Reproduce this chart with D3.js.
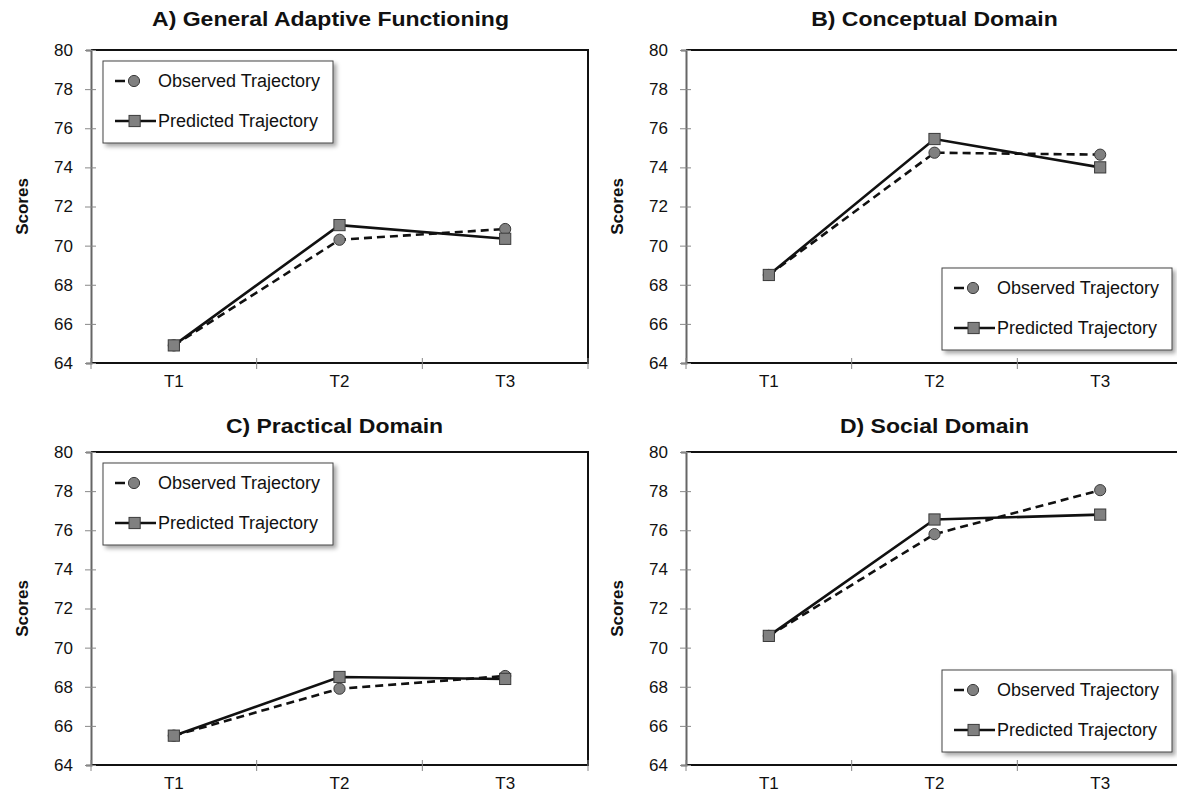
<!DOCTYPE html>
<html>
<head>
<meta charset="utf-8">
<script src="https://cdn.jsdelivr.net/npm/d3@7"></script>
<style>
  body { margin: 0; background: #fff; }
  svg { display: block; font-family: "Liberation Sans", Arial, sans-serif; }
</style>
</head>
<body>
<svg id="chart" width="1177" height="799"></svg>
<script>
// ---- data ----
const times = ["T1", "T2", "T3"];
const yTicks = [64, 66, 68, 70, 72, 74, 76, 78, 80];
const titles = ["A) General Adaptive Functioning", "B) Conceptual Domain", "C) Practical Domain", "D) Social Domain"];
const observedA = [64.9, 70.3, 70.85];
const predictedA = [64.9, 71.05, 70.35];
const observedB = [68.5, 74.75, 74.65];
const predictedB = [68.5, 75.45, 74.0];
const observedC = [65.5, 67.9, 68.55];
const predictedC = [65.5, 68.5, 68.4];
const observedD = [70.6, 75.8, 78.05];
const predictedD = [70.6, 76.55, 76.8];
const legendLabels = ["Observed Trajectory", "Predicted Trajectory"];

// ---- layout ----
const panels = [
  {title: titles[0], obs: observedA, pred: predictedA, left: 91,  top: 50,  legend: "tl", tdx: -9, tdy: -24},
  {title: titles[1], obs: observedB, pred: predictedB, left: 686, top: 50,  legend: "br", tdx: 0,  tdy: -24},
  {title: titles[2], obs: observedC, pred: predictedC, left: 91,  top: 452, legend: "tl", tdx: -5, tdy: -19},
  {title: titles[3], obs: observedD, pred: predictedD, left: 686, top: 452, legend: "br", tdx: 0,  tdy: -19}
];
const pw = 497, ph = 313;
const markerFill = "#808080", markerStroke = "#3a3a3a";

const svg = d3.select("#chart");

// drop shadow for legend boxes
const defs = svg.append("defs");
const f = defs.append("filter").attr("id", "shadow")
  .attr("x", "-10%").attr("y", "-10%").attr("width", "130%").attr("height", "140%");
f.append("feDropShadow").attr("dx", 3).attr("dy", 3).attr("stdDeviation", 2)
  .attr("flood-color", "#000").attr("flood-opacity", 0.35);

panels.forEach(p => {
  const g = svg.append("g").attr("transform", `translate(${p.left},${p.top})`);

  const x = d3.scaleBand().domain(times).range([0, pw]);
  const y = d3.scaleLinear().domain([64, 80]).range([ph, 0]);

  // title (source figure is stretched a little horizontally)
  g.append("text")
    .attr("transform", `translate(${pw / 2 + p.tdx},${p.tdy}) scale(1.18,1)`)
    .attr("text-anchor", "middle")
    .style("font-size", "19.5px")
    .style("font-weight", "bold")
    .style("fill", "#111")
    .text(p.title);

  // y label
  g.append("text")
    .attr("transform", "rotate(-90)")
    .attr("x", -ph / 2)
    .attr("y", -63)
    .attr("text-anchor", "middle")
    .style("font-size", "17px")
    .style("font-weight", "bold")
    .style("fill", "#111")
    .text("Scores");

  // plot border (top/right/bottom black)
  g.append("path")
    .attr("d", `M0,0H${pw}V${ph}H0`)
    .attr("fill", "none")
    .attr("stroke", "#111")
    .attr("stroke-width", 2);

  // y axis
  const ya = g.append("g")
    .call(d3.axisLeft(y).tickValues(yTicks).tickSize(5).tickPadding(13));
  ya.select(".domain").attr("stroke", "#666").attr("stroke-width", 2);
  ya.selectAll(".tick line").attr("stroke", "#888").attr("x2", 5).attr("x1", -6);
  ya.selectAll("text").style("font-size", "17px").style("fill", "#111");

  // x axis: ticks on band boundaries
  const xa = g.append("g")
    .attr("transform", `translate(0,${ph})`)
    .call(d3.axisBottom(x).tickSize(0).tickPadding(12));
  xa.select(".domain").remove();
  xa.selectAll("text").style("font-size", "17px").style("fill", "#111");
  g.selectAll(".xb")
    .data(times.map(t => x(t)).concat([pw]))
    .enter().append("line")
    .attr("x1", d => d).attr("x2", d => d)
    .attr("y1", ph - 5).attr("y2", ph + 6)
    .attr("stroke", "#888").attr("stroke-width", 1);

  const cx = t => x(t) + x.bandwidth() / 2;
  const line = d3.line().x((d, i) => cx(times[i])).y(d => y(d));

  // observed (dashed)
  g.append("path").datum(p.obs)
    .attr("fill", "none").attr("stroke", "#111")
    .attr("stroke-width", 2.6).attr("stroke-dasharray", "8,5")
    .attr("d", line);
  // predicted (solid)
  g.append("path").datum(p.pred)
    .attr("fill", "none").attr("stroke", "#111")
    .attr("stroke-width", 2.6)
    .attr("d", line);

  g.selectAll(".obs").data(p.obs).enter().append("circle")
    .attr("cx", (d, i) => cx(times[i])).attr("cy", d => y(d))
    .attr("r", 5.6)
    .attr("fill", markerFill).attr("stroke", markerStroke).attr("stroke-width", 1);

  g.selectAll(".pred").data(p.pred).enter().append("rect")
    .attr("x", (d, i) => cx(times[i]) - 5.6).attr("y", d => y(d) - 5.6)
    .attr("width", 11.2).attr("height", 11.2)
    .attr("fill", markerFill).attr("stroke", markerStroke).attr("stroke-width", 1);

  // legend
  const lw = 230, lh = 82;
  const lx = p.legend === "tl" ? 12 : 256;
  const ly = p.legend === "tl" ? 11 : 218;
  const lg = g.append("g").attr("transform", `translate(${lx},${ly})`);
  lg.append("rect")
    .attr("width", lw).attr("height", lh)
    .attr("fill", "#fff").attr("stroke", "#444").attr("stroke-width", 1)
    .attr("filter", "url(#shadow)");

  // observed entry
  lg.append("line").attr("x1", 12).attr("x2", 42).attr("y1", 20).attr("y2", 20)
    .attr("stroke", "#111").attr("stroke-width", 2.6).attr("stroke-dasharray", "10,5");
  lg.append("circle").attr("cx", 31).attr("cy", 20).attr("r", 5.6)
    .attr("fill", markerFill).attr("stroke", markerStroke);
  // predicted entry
  lg.append("line").attr("x1", 12).attr("x2", 53).attr("y1", 60).attr("y2", 60)
    .attr("stroke", "#111").attr("stroke-width", 2.6);
  lg.append("rect").attr("x", 26).attr("y", 54.4).attr("width", 11.2).attr("height", 11.2)
    .attr("fill", markerFill).attr("stroke", markerStroke);

  lg.selectAll(".lt").data(legendLabels).enter().append("text")
    .attr("x", 55).attr("y", (d, i) => 20 + i * 40)
    .attr("dy", "0.35em")
    .style("font-size", "18px").style("fill", "#111")
    .text(d => d);
});
</script>
</body>
</html>
